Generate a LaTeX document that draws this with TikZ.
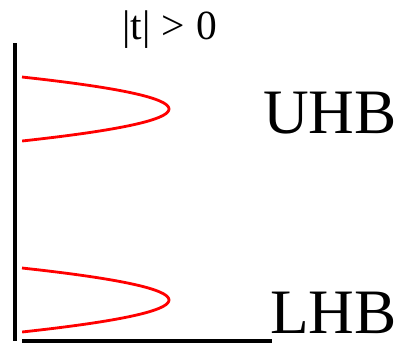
\documentclass[tikz,border=0pt]{standalone}
\usepackage{fontspec}
\setmainfont{Liberation Serif}
\usetikzlibrary{positioning}

\begin{document}
\begin{tikzpicture}[x=0.025cm, y=-0.025cm,
        axis/.style={draw=black, line width=2.2pt},
        band/.style={draw=red, line width=2pt},
        bandname/.style={anchor=base east, inner sep=0pt, text depth=0pt, font=\fontsize{45}{54}\selectfont}]
        \useasboundingbox (0,0) rectangle (403,344);

        % axes
        \coordinate (ytop) at (15,43);
        \coordinate (yend) at (15,341);
        \coordinate (xstart) at (22,341);
        \coordinate (xend) at (272,341);
        \draw[axis] (ytop) -- (yend);
        \draw[axis] (xstart) -- (xend);

        % Hubbard bands
        \foreach \yc in {109,300}
          \draw[band, smooth] plot[domain=-1:1, samples=41] ({22+147*(1-\x*\x)}, {\yc+32*\x});

        \node[inner sep=0pt, anchor=base west, text depth=0pt, font=\fontsize{29.5}{34}\selectfont] (hop) at (122,39) {|t|\hspace{0.28em}>\hspace{0.28em}0};
        \node[bandname] (uhb) at (397,133) {UHB};
        \node[bandname] (lhb) at (397,333) {LHB};
      \end{tikzpicture}
\end{document}
